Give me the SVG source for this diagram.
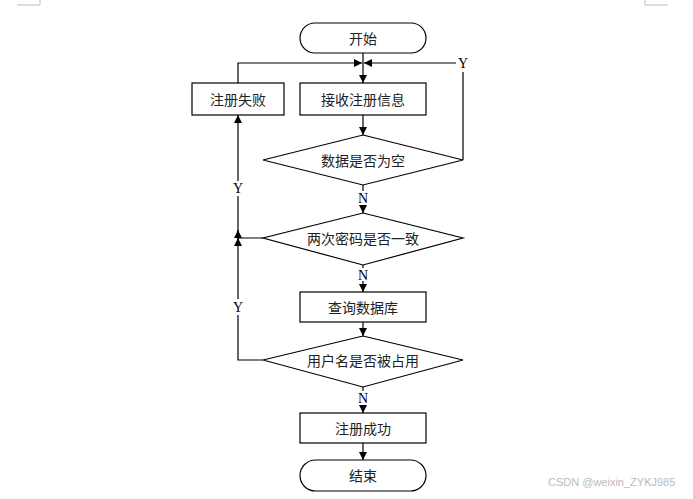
<svg xmlns="http://www.w3.org/2000/svg" width="693" height="499" viewBox="0 0 693 499">
<defs>
<marker id="ah" viewBox="0 0 10 10" refX="10" refY="5" markerWidth="8" markerHeight="8" markerUnits="userSpaceOnUse" orient="auto">
<path d="M0,0 L10,5 L0,10 z" fill="#000"/>
</marker>
<style>
.shape{fill:#fff;stroke:#000;stroke-width:1.2}
.t{font-family:"Noto Sans CJK SC","Noto Sans",sans-serif;font-size:14px;fill:#222;text-anchor:middle;dominant-baseline:central}
.lb{font-family:"Liberation Serif",serif;font-size:14px;fill:#000;text-anchor:middle;dominant-baseline:central}
.c{fill:none;stroke:#000;stroke-width:1.2}
.a{marker-end:url(#ah)}
.corner{fill:none;stroke:#bbb;stroke-width:1}
</style>
</defs>
<rect width="693" height="499" fill="#fff"/>
<path class="corner" d="M17,5 H40 V0"/>
<path class="corner" d="M645,0 V5 H668"/>
<g id="connectors">
<line class="c a" x1="363" y1="53" x2="363" y2="83"/>
<line class="c a" x1="363" y1="115" x2="363" y2="135"/>
<line class="c" x1="363" y1="185" x2="363" y2="191"/>
<line class="c a" x1="363" y1="205" x2="363" y2="213"/>
<polyline class="c" points="463,160 463,72"/>
<line class="c a" x1="456" y1="63" x2="364" y2="63"/>
<polyline class="c" points="263,238 238,238 238,196"/>
<line class="c a" x1="238" y1="181" x2="238" y2="115"/>
<line class="c a" x1="238" y1="240" x2="238" y2="230"/>
<line class="c" x1="363" y1="265" x2="363" y2="268"/>
<line class="c a" x1="363" y1="281" x2="363" y2="292"/>
<line class="c a" x1="363" y1="322" x2="363" y2="336"/>
<polyline class="c" points="263,360 238,360 238,315"/>
<line class="c a" x1="238" y1="299" x2="238" y2="238"/>
<line class="c" x1="363" y1="387" x2="363" y2="391"/>
<line class="c a" x1="363" y1="405" x2="363" y2="413"/>
<line class="c a" x1="363" y1="443" x2="363" y2="460"/>
<polyline class="c a" points="238,83 238,63 362,63"/>
<text class="lb" x="463" y="63">Y</text>
<text class="lb" x="238" y="188">Y</text>
<text class="lb" x="238" y="307">Y</text>
<text class="lb" x="363" y="198">N</text>
<text class="lb" x="363" y="275">N</text>
<text class="lb" x="363" y="398">N</text>
</g>
<g id="start">
<rect class="shape" x="300" y="23" width="126" height="30" rx="15" ry="15"/>
<text class="t" x="363" y="38">开始</text>
</g>
<g id="receive">
<rect class="shape" x="300" y="83" width="126" height="32"/>
<text class="t" x="363" y="99">接收注册信息</text>
</g>
<g id="fail">
<rect class="shape" x="192" y="83" width="92" height="32"/>
<text class="t" x="238" y="99">注册失败</text>
</g>
<g id="empty">
<polygon class="shape" points="363,135 463,160 363,185 263,160"/>
<text class="t" x="363" y="160">数据是否为空</text>
</g>
<g id="pwd">
<polygon class="shape" points="363,213 463,238 363,265 263,238"/>
<text class="t" x="363" y="238">两次密码是否一致</text>
</g>
<g id="query">
<rect class="shape" x="300" y="292" width="126" height="30"/>
<text class="t" x="363" y="307">查询数据库</text>
</g>
<g id="taken">
<polygon class="shape" points="363,336 463,360 363,387 263,360"/>
<text class="t" x="363" y="360">用户名是否被占用</text>
</g>
<g id="success">
<rect class="shape" x="300" y="413" width="126" height="30"/>
<text class="t" x="363" y="428">注册成功</text>
</g>
<g id="end">
<rect class="shape" x="300" y="460" width="126" height="31" rx="15.5" ry="15.5"/>
<text class="t" x="363" y="475">结束</text>
</g>
<text x="548" y="486" font-family="Liberation Sans, sans-serif" font-size="11" fill="#bbb">CSDN @weixin_ZYKJ985</text>
</svg>
